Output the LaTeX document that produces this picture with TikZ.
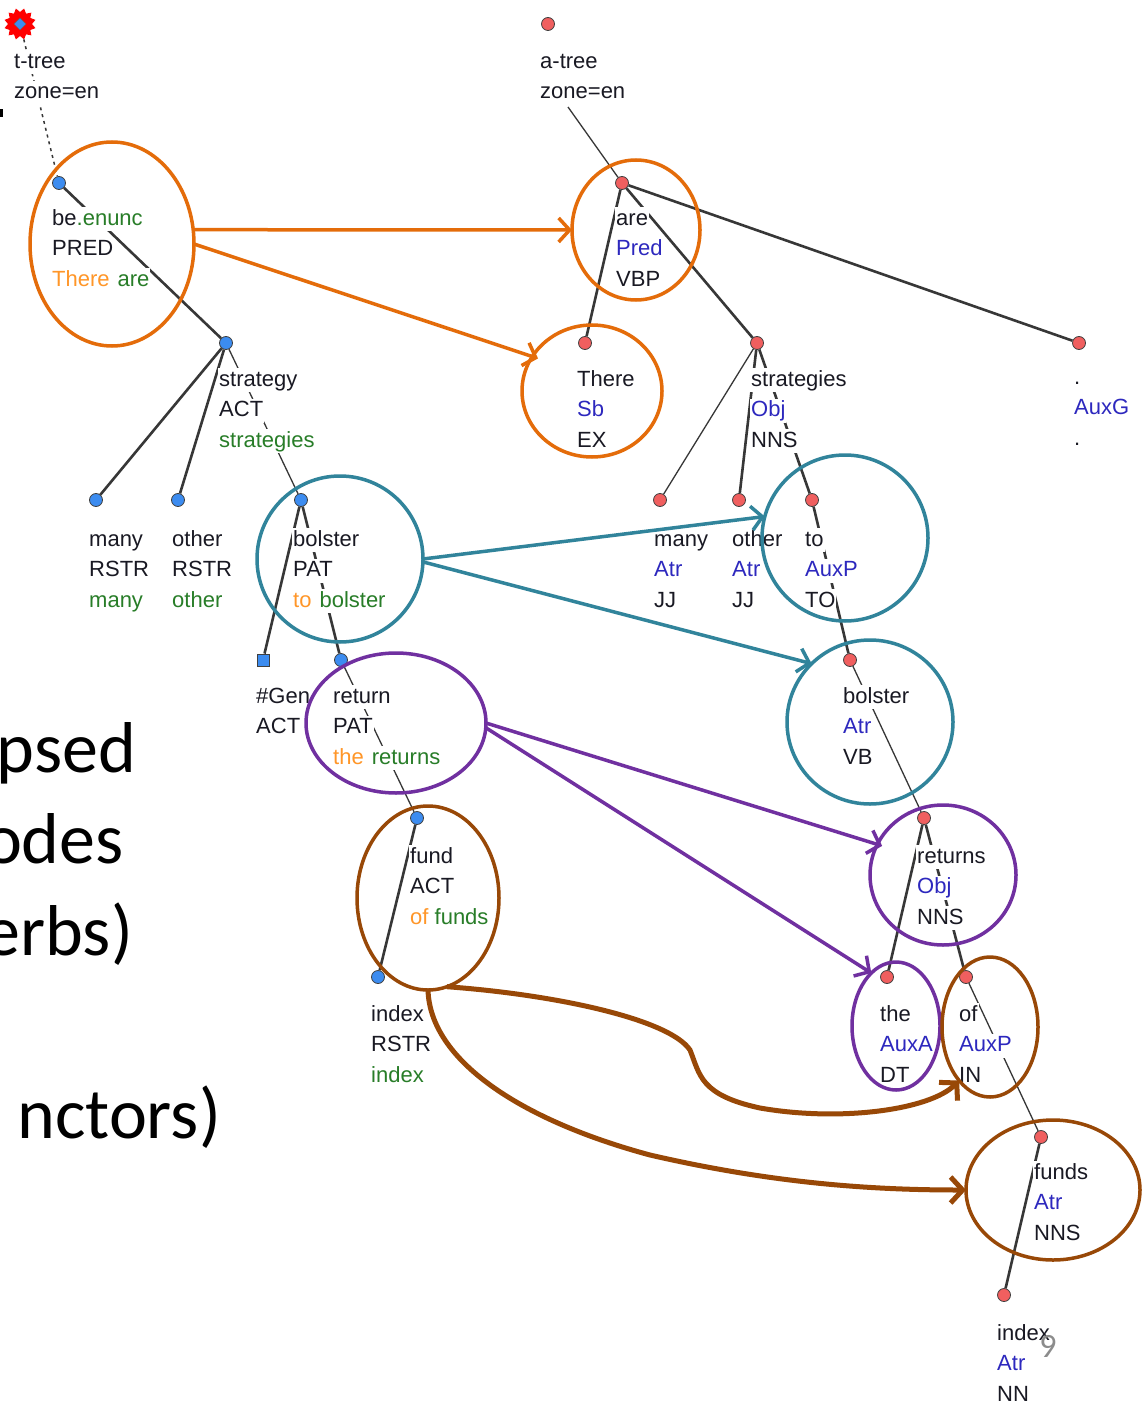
\documentclass[tikz,border=0pt]{standalone}
\usepackage{fontspec}
\setmainfont{Liberation Sans}
\newfontfamily\slidefont{Carlito}
\usetikzlibrary{arrows.meta,shapes.geometric}

\definecolor{cOrange}{RGB}{228,108,10}
\definecolor{cTeal}{RGB}{49,132,155}
\definecolor{cPurple}{RGB}{112,48,160}
\definecolor{cBrown}{RGB}{152,72,7}
\definecolor{txBlue}{RGB}{45,40,190}
\definecolor{txGreen}{RGB}{40,125,40}
\definecolor{txOrange}{RGB}{255,150,40}
\definecolor{txDark}{RGB}{25,25,35}
\definecolor{mkBlue}{RGB}{60,140,240}
\definecolor{mkRed}{RGB}{240,95,95}
\definecolor{edgeGray}{RGB}{55,55,55}

\setlength{\fboxsep}{1pt}
% one text line of a tree label, on its own white patch
\newcommand\lbx[1]{\colorbox{white}{\rule[-5pt]{0pt}{22pt}#1}}
\newcommand\bl[1]{\textcolor{txBlue}{#1}}
\newcommand\gr[1]{\textcolor{txGreen}{#1}}
\newcommand\orr[1]{\textcolor{txOrange}{#1}}
% label: name, left x, centre y of first line, lines
\newcommand\lbl[4]{\node[lab] (#1) at ({#2-1},{#3-11}) {#4};}

\tikzset{
  lab/.style={anchor=north west, inner sep=0pt, align=left, text=txDark,
    font=\fontsize{22}{30.5}\selectfont},
  mk/.style={circle, draw=black!75, line width=0.8pt, inner sep=0pt, minimum size=13pt},
  bmk/.style={mk, fill=mkBlue},
  rmk/.style={mk, fill=mkRed},
  edg/.style={draw=edgeGray, line width=2.6pt},
  edgthin/.style={draw=edgeGray, line width=1.3pt},
  ell/.style={ellipse, draw=#1, line width=3.5pt, inner sep=0pt, outer sep=0pt},
  arr/.style={draw=#1, line width=3.5pt, -{Straight Barb[length=11pt,width=24pt]}},
  barr/.style={draw=cBrown, line width=5pt, -{Straight Barb[length=12pt,width=26pt]}},
  big/.style={inner sep=0pt, anchor=base east, font=\slidefont\fontsize{72}{86}\selectfont},
}

\begin{document}
\begin{tikzpicture}[x=1pt,y=-1pt]
\fill[white] (0,0) rectangle (1144,1404);
\useasboundingbox (0,0) rectangle (1144,1404);

% fragments of slide text at the left border
\fill[black] (0,109) rectangle (3,117);
\node[big] (w1) at (136,772) {psed};
\node[big] (w2) at (124,863.5) {odes};
\node[big] (w3) at (133,955) {erbs)};
\node[big] (w4) at (221,1138) {nctors)};

% ---------- tree node markers ----------
\node[star, star points=12, star point ratio=0.75, fill=red, inner sep=0pt, minimum size=24pt] (tRoot) at (20,24) {};
\node[diamond, fill=mkBlue, draw=black!60, line width=0.5pt, inner sep=0pt, minimum size=12pt] (tRootCore) at (20,24) {};
\node[bmk] (mBe) at (59,183) {};
\node[bmk] (mStrategy) at (226,343) {};
\node[bmk] (mTMany) at (96,500) {};
\node[bmk] (mTOther) at (178,500) {};
\node[bmk] (mTBolster) at (301,500) {};
\node[rectangle, draw=black!75, line width=0.8pt, fill=mkBlue, inner sep=0pt, minimum size=12pt] (mGen) at (263,660) {};
\node[bmk] (mReturn) at (341,660) {};
\node[bmk] (mFund) at (417,818) {};
\node[bmk] (mTIndex) at (378,977) {};

\node[rmk] (aRoot) at (548,24) {};
\coordinate (aRootFoot) at (568,107);
\node[rmk] (mAre) at (622,183) {};
\node[rmk] (mThere) at (585,343) {};
\node[rmk] (mStrategies) at (757,343) {};
\node[rmk] (mAuxG) at (1079,343) {};
\node[rmk] (mAMany) at (660,500) {};
\node[rmk] (mAOther) at (739,500) {};
\node[rmk] (mTo) at (812,500) {};
\node[rmk] (mABolster) at (850,660) {};
\node[rmk] (mReturns) at (924,818) {};
\node[rmk] (mThe) at (887,977) {};
\node[rmk] (mOf) at (966,977) {};
\node[rmk] (mFunds) at (1041,1137) {};
\node[rmk] (mAIndex) at (1004,1295) {};

% ---------- tree edges ----------
\draw[draw=edgeGray, line width=1.5pt, dash pattern=on 3pt off 4pt] (tRoot) -- (mBe);
\draw[edg] (mBe) -- (mStrategy);
\draw[edg] (mStrategy) -- (mTMany);
\draw[edg] (mStrategy) -- (mTOther);
\draw[edgthin] (mStrategy) -- (mTBolster);
\draw[edg] (mTBolster) -- (mGen);
\draw[edg] (mTBolster) -- (mReturn);
\draw[edgthin] (mReturn) -- (mFund);
\draw[edg] (mFund) -- (mTIndex);

\draw[edgthin] (aRootFoot) -- (mAre);
\draw[edg] (mAre) -- (mThere);
\draw[edg] (mAre) -- (mStrategies);
\draw[edg] (mAre) -- (mAuxG);
\draw[edgthin] (mStrategies) -- (mAMany);
\draw[edg] (mStrategies) -- (mAOther);
\draw[edg] (mStrategies) -- (mTo);
\draw[edg] (mTo) -- (mABolster);
\draw[edgthin] (mABolster) -- (mReturns);
\draw[edg] (mReturns) -- (mThe);
\draw[edg] (mReturns) -- (mOf);
\draw[edgthin] (mOf) -- (mFunds);
\draw[edg] (mFunds) -- (mAIndex);

% ---------- labels (t-tree) ----------
\lbl{lTRoot}{14}{61}{\lbx{t-tree}\\\lbx{zone=en}}
\lbl{lBe}{52}{218}{\lbx{be\gr{.enunc}}\\\lbx{PRED}\\\lbx{\orr{There}\hspace{8pt}\gr{are}}}
\lbl{lStrategy}{219}{379}{\lbx{strategy}\\\lbx{ACT}\\\lbx{\gr{strategies}}}
\lbl{lTMany}{89}{539}{\lbx{many}\\\lbx{RSTR}\\\lbx{\gr{many}}}
\lbl{lTOther}{172}{539}{\lbx{other}\\\lbx{RSTR}\\\lbx{\gr{other}}}
\lbl{lTBolster}{293}{539}{\lbx{bolster}\\\lbx{PAT}\\\lbx{\orr{to}\hspace{8pt}\gr{bolster}}}
\lbl{lGen}{256}{696}{\lbx{\#Gen}\\\lbx{ACT}}
\lbl{lReturn}{333}{696}{\lbx{return}\\\lbx{PAT}\\\lbx{\orr{the}\hspace{8pt}\gr{returns}}}
\lbl{lFund}{410}{856}{\lbx{fund}\\\lbx{ACT}\\\lbx{\orr{of} \gr{funds}}}
\lbl{lTIndex}{371}{1014}{\lbx{index}\\\lbx{RSTR}\\\lbx{\gr{index}}}

% ---------- labels (a-tree) ----------
\lbl{lARoot}{540}{61}{\lbx{a-tree}\\\lbx{zone=en}}
\lbl{lAre}{616}{218}{\lbx{are}\\\lbx{\bl{Pred}}\\\lbx{VBP}}
\lbl{lThere}{577}{379}{\lbx{There}\\\lbx{\bl{Sb}}\\\lbx{EX}}
\lbl{lStrategies}{751}{379}{\lbx{strategies}\\\lbx{\bl{Obj}}\\\lbx{NNS}}
\lbl{lAuxG}{1074}{377}{\lbx{.}\\\lbx{\bl{AuxG}}\\\lbx{.}}
\lbl{lAMany}{654}{539}{\lbx{many}\\\lbx{\bl{Atr}}\\\lbx{JJ}}
\lbl{lAOther}{732}{539}{\lbx{other}\\\lbx{\bl{Atr}}\\\lbx{JJ}}
\lbl{lTo}{805}{539}{\lbx{to}\\\lbx{\bl{AuxP}}\\\lbx{TO}}
\lbl{lABolster}{843}{696}{\lbx{bolster}\\\lbx{\bl{Atr}}\\\lbx{VB}}
\lbl{lReturns}{917}{856}{\lbx{returns}\\\lbx{\bl{Obj}}\\\lbx{NNS}}
\lbl{lThe}{880}{1014}{\lbx{the}\\\lbx{\bl{AuxA}}\\\lbx{DT}}
\lbl{lOf}{959}{1014}{\lbx{of}\\\lbx{\bl{AuxP}}\\\lbx{IN}}
\lbl{lFunds}{1034}{1172}{\lbx{funds}\\\lbx{\bl{Atr}}\\\lbx{NNS}}
\lbl{lAIndex}{997}{1333}{\lbx{index}\\\lbx{\bl{Atr}}\\\lbx{NN}}

% ---------- alignment ellipses ----------
\node[ell=cOrange, minimum width=164pt, minimum height=204pt] (beE) at (112,244) {};
\node[ell=cOrange, minimum width=128pt, minimum height=140pt] (areE) at (636,230) {};
\node[ell=cOrange, minimum width=140pt, minimum height=132pt] (thereE) at (592,391) {};
\node[ell=cTeal, minimum width=166pt, minimum height=166pt] (bolTE) at (340,559) {};
\node[ell=cTeal, minimum width=166pt, minimum height=166pt] (toE) at (845,538) {};
\node[ell=cTeal, minimum width=166pt, minimum height=164pt] (bolAE) at (870,722) {};
\node[ell=cPurple, minimum width=180pt, minimum height=140pt] (retE) at (396,723) {};
\node[ell=cPurple, minimum width=146pt, minimum height=140pt] (retsE) at (943,875) {};
\node[ell=cPurple, minimum width=88pt, minimum height=128pt] (theE) at (896,1026) {};
\node[ell=cBrown, minimum width=142pt, minimum height=184pt] (fundE) at (428,898) {};
\node[ell=cBrown, minimum width=96pt, minimum height=140pt] (ofE) at (990,1027) {};
\node[ell=cBrown, minimum width=174pt, minimum height=140pt] (fundsE) at (1053,1190) {};

% ---------- alignment arrows ----------
\draw[arr=cOrange] (beE.10) -- (areE.west);
\draw[arr=cOrange, shorten >=-6pt] (beE.east) -- (thereE.150);
\draw[arr=cTeal] (bolTE.east) -- (toE.165);
\draw[arr=cTeal] (bolTE.-2) -- (bolAE.135);
\draw[arr=cPurple, shorten >=-5pt] (retE.east) -- (retsE.155);
\draw[arr=cPurple] (retE.-3) -- (theE.115);
\draw[barr] (fundE.-78) .. controls (560,995) and (670,1020) .. (690,1050)
  .. controls (700,1075) and (700,1095) .. (760,1108)
  .. controls (840,1122) and (930,1110) .. (ofE.-120);
\draw[barr] (fundE.south) .. controls (430,1060) and (520,1120) .. (650,1155)
  .. controls (780,1185) and (880,1190) .. (fundsE.west);

% slide number
\node[font=\slidefont\fontsize{34}{40}\selectfont, text=black!45, inner sep=0pt] (pgnum) at (1048,1346) {9};
\end{tikzpicture}
\end{document}
